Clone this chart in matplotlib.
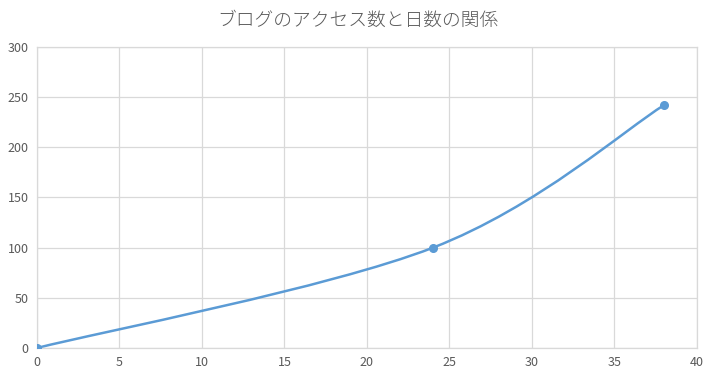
import matplotlib
matplotlib.use('Agg')
import matplotlib.pyplot as plt
from matplotlib.path import Path
from matplotlib.patches import PathPatch

plt.rcParams['font.family'] = ['Noto Sans CJK JP', 'DejaVu Sans']

# データ（日数, アクセス数）
days = [0, 24, 38]
access = [0, 100, 242]
x_ticks = [0, 5, 10, 15, 20, 25, 30, 35, 40]
y_ticks = [0, 50, 100, 150, 200, 250, 300]
title = 'ブログのアクセス数と日数の関係'

line_color = '#5B9BD5'
grid_color = '#D9D9D9'
text_color = '#595959'


def smooth_path(xs, ys):
    """Excel 風の平滑線（Catmull-Rom をベジェに変換）"""
    pts = list(zip(xs, ys))
    n = len(pts)
    verts = [pts[0]]
    codes = [Path.MOVETO]
    for i in range(n - 1):
        p0 = pts[i - 1] if i > 0 else pts[i]
        p1 = pts[i]
        p2 = pts[i + 1]
        p3 = pts[i + 2] if i + 2 < n else pts[i + 1]
        c1 = (p1[0] + (p2[0] - p0[0]) / 6, p1[1] + (p2[1] - p0[1]) / 6)
        c2 = (p2[0] - (p3[0] - p1[0]) / 6, p2[1] - (p3[1] - p1[1]) / 6)
        verts += [c1, c2, p2]
        codes += [Path.CURVE4] * 3
    return Path(verts, codes)


fig = plt.figure(figsize=(7.15, 3.78), dpi=100)
ax = fig.add_axes([0.0517, 0.0794, 0.9231, 0.7963])

ax.add_patch(PathPatch(smooth_path(days, access), facecolor='none',
                       edgecolor=line_color, linewidth=1.8, capstyle='round'))
ax.plot(days, access, 'o', color=line_color, markersize=5.5, zorder=3)

ax.set_xlim(0, 40)
ax.set_ylim(0, 300)
ax.set_xticks(x_ticks)
ax.set_yticks(y_ticks)
ax.grid(True, color=grid_color, linewidth=0.9)
ax.set_axisbelow(True)
for s in ax.spines.values():
    s.set_color(grid_color)
    s.set_linewidth(0.9)
ax.tick_params(length=0, labelsize=9, colors=text_color, pad=6)

fig.text(0.5, 0.945, title, ha='center', va='center', fontsize=13.5,
         color=text_color, fontweight='light')

fig.savefig('out.png', dpi=100)
